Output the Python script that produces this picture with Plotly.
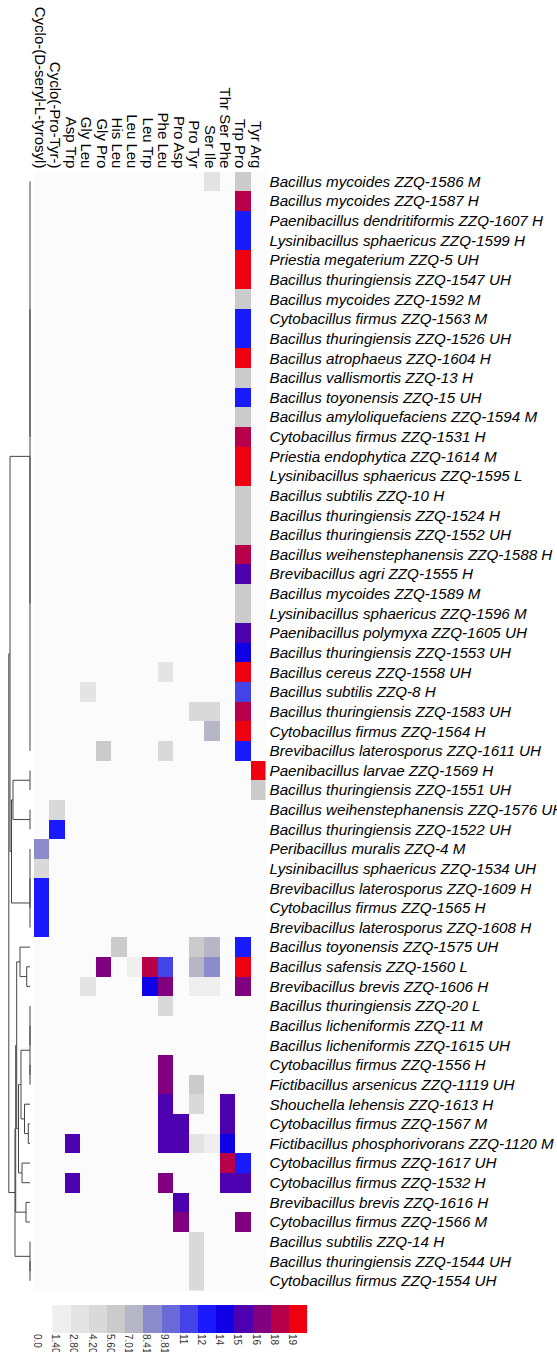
import plotly.graph_objects as go

# ---------------- data ----------------
columns = ["Cyclo-(D-seryl-L-tyrosyl)", "Cyclo(-Pro-Tyr-)", "Asp Trp", "Gly Leu", "Gly Pro",
           "His Leu", "Leu Leu", "Leu Trp", "Phe Leu", "Pro Asp", "Pro Tyr", "Ser Ile",
           "Thr Ser Phe", "Trp Pro", "Tyr Arg"]

strains = [
    "Bacillus mycoides ZZQ-1586 M", "Bacillus mycoides ZZQ-1587 H",
    "Paenibacillus dendritiformis ZZQ-1607 H", "Lysinibacillus sphaericus ZZQ-1599 H",
    "Priestia megaterium ZZQ-5 UH", "Bacillus thuringiensis ZZQ-1547 UH",
    "Bacillus mycoides ZZQ-1592 M", "Cytobacillus firmus ZZQ-1563 M",
    "Bacillus thuringiensis ZZQ-1526 UH", "Bacillus atrophaeus ZZQ-1604 H",
    "Bacillus vallismortis ZZQ-13 H", "Bacillus toyonensis ZZQ-15 UH",
    "Bacillus amyloliquefaciens ZZQ-1594 M", "Cytobacillus firmus ZZQ-1531 H",
    "Priestia endophytica ZZQ-1614 M", "Lysinibacillus sphaericus ZZQ-1595 L",
    "Bacillus subtilis ZZQ-10 H", "Bacillus thuringiensis ZZQ-1524 H",
    "Bacillus thuringiensis ZZQ-1552 UH", "Bacillus weihenstephanensis ZZQ-1588 H",
    "Brevibacillus agri ZZQ-1555 H", "Bacillus mycoides ZZQ-1589 M",
    "Lysinibacillus sphaericus ZZQ-1596 M", "Paenibacillus polymyxa ZZQ-1605 UH",
    "Bacillus thuringiensis ZZQ-1553 UH", "Bacillus cereus ZZQ-1558 UH",
    "Bacillus subtilis ZZQ-8 H", "Bacillus thuringiensis ZZQ-1583 UH",
    "Cytobacillus firmus ZZQ-1564 H", "Brevibacillus laterosporus ZZQ-1611 UH",
    "Paenibacillus larvae ZZQ-1569 H", "Bacillus thuringiensis ZZQ-1551 UH",
    "Bacillus weihenstephanensis ZZQ-1576 UH", "Bacillus thuringiensis ZZQ-1522 UH",
    "Peribacillus muralis ZZQ-4 M", "Lysinibacillus sphaericus ZZQ-1534 UH",
    "Brevibacillus laterosporus ZZQ-1609 H", "Cytobacillus firmus ZZQ-1565 H",
    "Brevibacillus laterosporus ZZQ-1608 H", "Bacillus toyonensis ZZQ-1575 UH",
    "Bacillus safensis ZZQ-1560 L", "Brevibacillus brevis ZZQ-1606 H",
    "Bacillus thuringiensis ZZQ-20 L", "Bacillus licheniformis ZZQ-11 M",
    "Bacillus licheniformis ZZQ-1615 UH", "Cytobacillus firmus ZZQ-1556 H",
    "Fictibacillus arsenicus ZZQ-1119 UH", "Shouchella lehensis ZZQ-1613 H",
    "Cytobacillus firmus ZZQ-1567 M", "Fictibacillus phosphorivorans ZZQ-1120 M",
    "Cytobacillus firmus ZZQ-1617 UH", "Cytobacillus firmus ZZQ-1532 H",
    "Brevibacillus brevis ZZQ-1616 H", "Cytobacillus firmus ZZQ-1566 M",
    "Bacillus subtilis ZZQ-14 H", "Bacillus thuringiensis ZZQ-1544 UH",
    "Cytobacillus firmus ZZQ-1554 UH",
]

# non-zero values per column: {row index: value}
cyclo_d_seryl_l_tyrosyl = {34: 7.7, 35: 3.5, 36: 12.0, 37: 12.0, 38: 12.0}
cyclo_pro_tyr = {32: 3.5, 33: 12.0}
asp_trp = {49: 14.7, 51: 14.7}
gly_leu = {26: 2.1, 41: 2.1}
gly_pro = {29: 4.9, 40: 16.1}
his_leu = {39: 4.9}
leu_leu = {40: 0.7}
leu_trp = {40: 17.5, 41: 13.3}
phe_leu = {25: 2.1, 29: 3.5, 40: 10.5, 41: 16.1, 42: 3.5, 45: 16.1, 46: 16.1,
           47: 14.7, 48: 14.7, 49: 14.7, 51: 16.1}
pro_asp = {48: 14.7, 49: 14.7, 52: 14.7, 53: 16.1}
pro_tyr = {27: 3.5, 39: 4.9, 40: 6.3, 41: 0.7, 46: 4.9, 47: 3.5, 49: 2.1,
           54: 3.5, 55: 3.5, 56: 3.5}
ser_ile = {0: 2.1, 27: 3.5, 28: 6.3, 39: 6.3, 40: 7.7, 41: 0.7, 49: 0.7}
thr_ser_phe = {47: 14.7, 48: 14.7, 49: 13.3, 50: 17.5, 51: 14.7}
trp_pro = {0: 4.9, 1: 17.5, 2: 12.0, 3: 12.0, 4: 19.0, 5: 19.0, 6: 4.9, 7: 12.0,
           8: 12.0, 9: 19.0, 10: 4.9, 11: 12.0, 12: 4.9, 13: 17.5, 14: 19.0,
           15: 19.0, 16: 4.9, 17: 4.9, 18: 4.9, 19: 17.5, 20: 14.7, 21: 4.9,
           22: 4.9, 23: 14.7, 24: 13.3, 25: 19.0, 26: 10.5, 27: 17.5, 28: 19.0,
           29: 12.0, 39: 12.0, 40: 19.0, 41: 16.1, 50: 12.0, 51: 14.7, 53: 16.1}
tyr_arg = {30: 19.0, 31: 4.9}

column_values = [cyclo_d_seryl_l_tyrosyl, cyclo_pro_tyr, asp_trp, gly_leu, gly_pro,
                 his_leu, leu_leu, leu_trp, phe_leu, pro_asp, pro_tyr, ser_ile,
                 thr_ser_phe, trp_pro, tyr_arg]

# colour key
bin_step = 1.401
bin_colors = ["#efefef", "#e4e4e4", "#d9d9d9", "#cbcbcb", "#b6b6c6", "#8c8ccc",
              "#6a6ad9", "#4343e8", "#1a1aff", "#1000e6", "#4c00b0", "#800080",
              "#b80048", "#ee0010"]
key_labels = ["0.0", "1.40", "2.80", "4.20", "5.60", "7.01", "8.41", "9.81",
              "11", "12", "14", "15", "16", "18", "19"]

# row dendrogram: (height, left, right); list = zero-height group; int = leaf row
dendrogram = (0.986,
              (0.930,
               (0.0, list(range(0, 14)), list(range(14, 30))),
               (0.860,
                (0.791, [30, 31], [32, 33]),
                (0.0, [34, 35, 36, 37], 38))),
              (0.698,
               (0.665,
                (0.619,
                 (0.465, 39, (0.153, 40, 41)),
                 (0.535,
                  (0.419, (0.0, [42, 43, 44], [45, 46]), (0.256, 47, (0.079, 48, 49))),
                  (0.372, 50, 51))),
                (0.186, 52, 53)),
               (0.0, 54, [55, 56])))

# ---------------- build ----------------
W, H = 557, 1352
n_rows, n_cols = len(strains), len(columns)
z = [[None] * n_cols for _ in range(n_rows)]
for j, colvals in enumerate(column_values):
    for r, v in colvals.items():
        z[r][j] = v

nb = len(bin_colors)
zmax = bin_step * nb
cscale = []
for i, c in enumerate(bin_colors):
    cscale.append([i / nb, c])
    cscale.append([(i + 1) / nb, c])

fig = go.Figure()

# background for empty cells
fig.add_trace(go.Heatmap(
    x=list(range(n_cols)), y=list(range(n_rows)),
    z=[[0] * n_cols for _ in range(n_rows)],
    colorscale=[[0, "#fbfbfb"], [1, "#fbfbfb"]], showscale=False,
    hoverinfo="skip", xaxis="x", yaxis="y"))

fig.add_trace(go.Heatmap(
    x=list(range(n_cols)), y=list(range(n_rows)), z=z,
    colorscale=cscale, zmin=0, zmax=zmax, showscale=False,
    xaxis="x", yaxis="y"))

# dendrogram segments
dx, dy = [], []


def draw(node):
    if isinstance(node, int):
        return float(node), 0.0
    if isinstance(node, list):
        lo, hi = min(node), max(node)
        dx.extend([0.0, 0.0, None])
        dy.extend([lo, hi, None])
        return (lo + hi) / 2.0, 0.0
    h, left, right = node
    pl, hl = draw(left)
    pr, hr = draw(right)
    dx.extend([hl, h, h, hr, None])
    dy.extend([pl, pl, pr, pr, None])
    return (pl + pr) / 2.0, h


draw(dendrogram)
fig.add_trace(go.Scatter(x=dx, y=dy, mode="lines",
                         line=dict(color="#444444", width=1),
                         hoverinfo="skip", xaxis="x2", yaxis="y2", showlegend=False))

# colour key
fig.add_trace(go.Heatmap(
    x=list(range(nb)), y=[0],
    z=[[bin_step * (i + 0.5) for i in range(nb)]],
    colorscale=cscale, zmin=0, zmax=zmax, showscale=False,
    xaxis="x3", yaxis="y3"))

font_family = "Liberation Sans, Arial, sans-serif"
hm_x0, hm_x1 = 34 / W, 265.5 / W
hm_y0, hm_y1 = 1 - 1290.7 / H, 1 - 171.7 / H

fig.update_layout(
    width=W, height=H, margin=dict(l=0, r=0, t=0, b=0),
    paper_bgcolor="white", plot_bgcolor="white", showlegend=False,
    font=dict(family=font_family, color="black"),
    xaxis=dict(domain=[hm_x0, hm_x1], range=[-0.5, n_cols - 0.5], side="top",
               tickmode="array", tickvals=list(range(n_cols)), ticktext=columns,
               tickangle=90, tickfont=dict(size=15, color="black"),
               ticklabelshift=-2,
               showgrid=False, zeroline=False, showline=False, ticks="",
               anchor="y", automargin=False),
    yaxis=dict(domain=[hm_y0, hm_y1], range=[n_rows - 0.5, -0.5], side="right",
               tickmode="array", tickvals=list(range(n_rows)), ticktext=strains,
               tickfont=dict(size=15.2, color="black", style="italic"),
               ticklabelstandoff=3,
               showgrid=False, zeroline=False, showline=False, ticks="",
               anchor="x", automargin=False),
    xaxis2=dict(domain=[0, hm_x0], range=[30 / 21.5, -4 / 21.5], visible=False,
                anchor="y2"),
    yaxis2=dict(domain=[hm_y0, hm_y1], range=[n_rows - 0.5, -0.5], visible=False,
                anchor="x2"),
    xaxis3=dict(domain=[34.1 / W, 307.3 / W], range=[-1.5, nb - 0.5],
                tickmode="array",
                tickvals=[i - 1.5 + 0.17 for i in range(len(key_labels))],
                ticktext=key_labels, tickangle=90,
                tickfont=dict(size=10, color="#333333"),
                showgrid=False, zeroline=False, showline=False, ticks="",
                anchor="y3", automargin=False),
    yaxis3=dict(domain=[1 - 1333 / H, 1 - 1305 / H], range=[-0.5, 0.5],
                visible=False, anchor="x3"),
)

fig.write_html("out.html", config={"displayModeBar": False},
               post_script="document.body.style.margin='0';")
